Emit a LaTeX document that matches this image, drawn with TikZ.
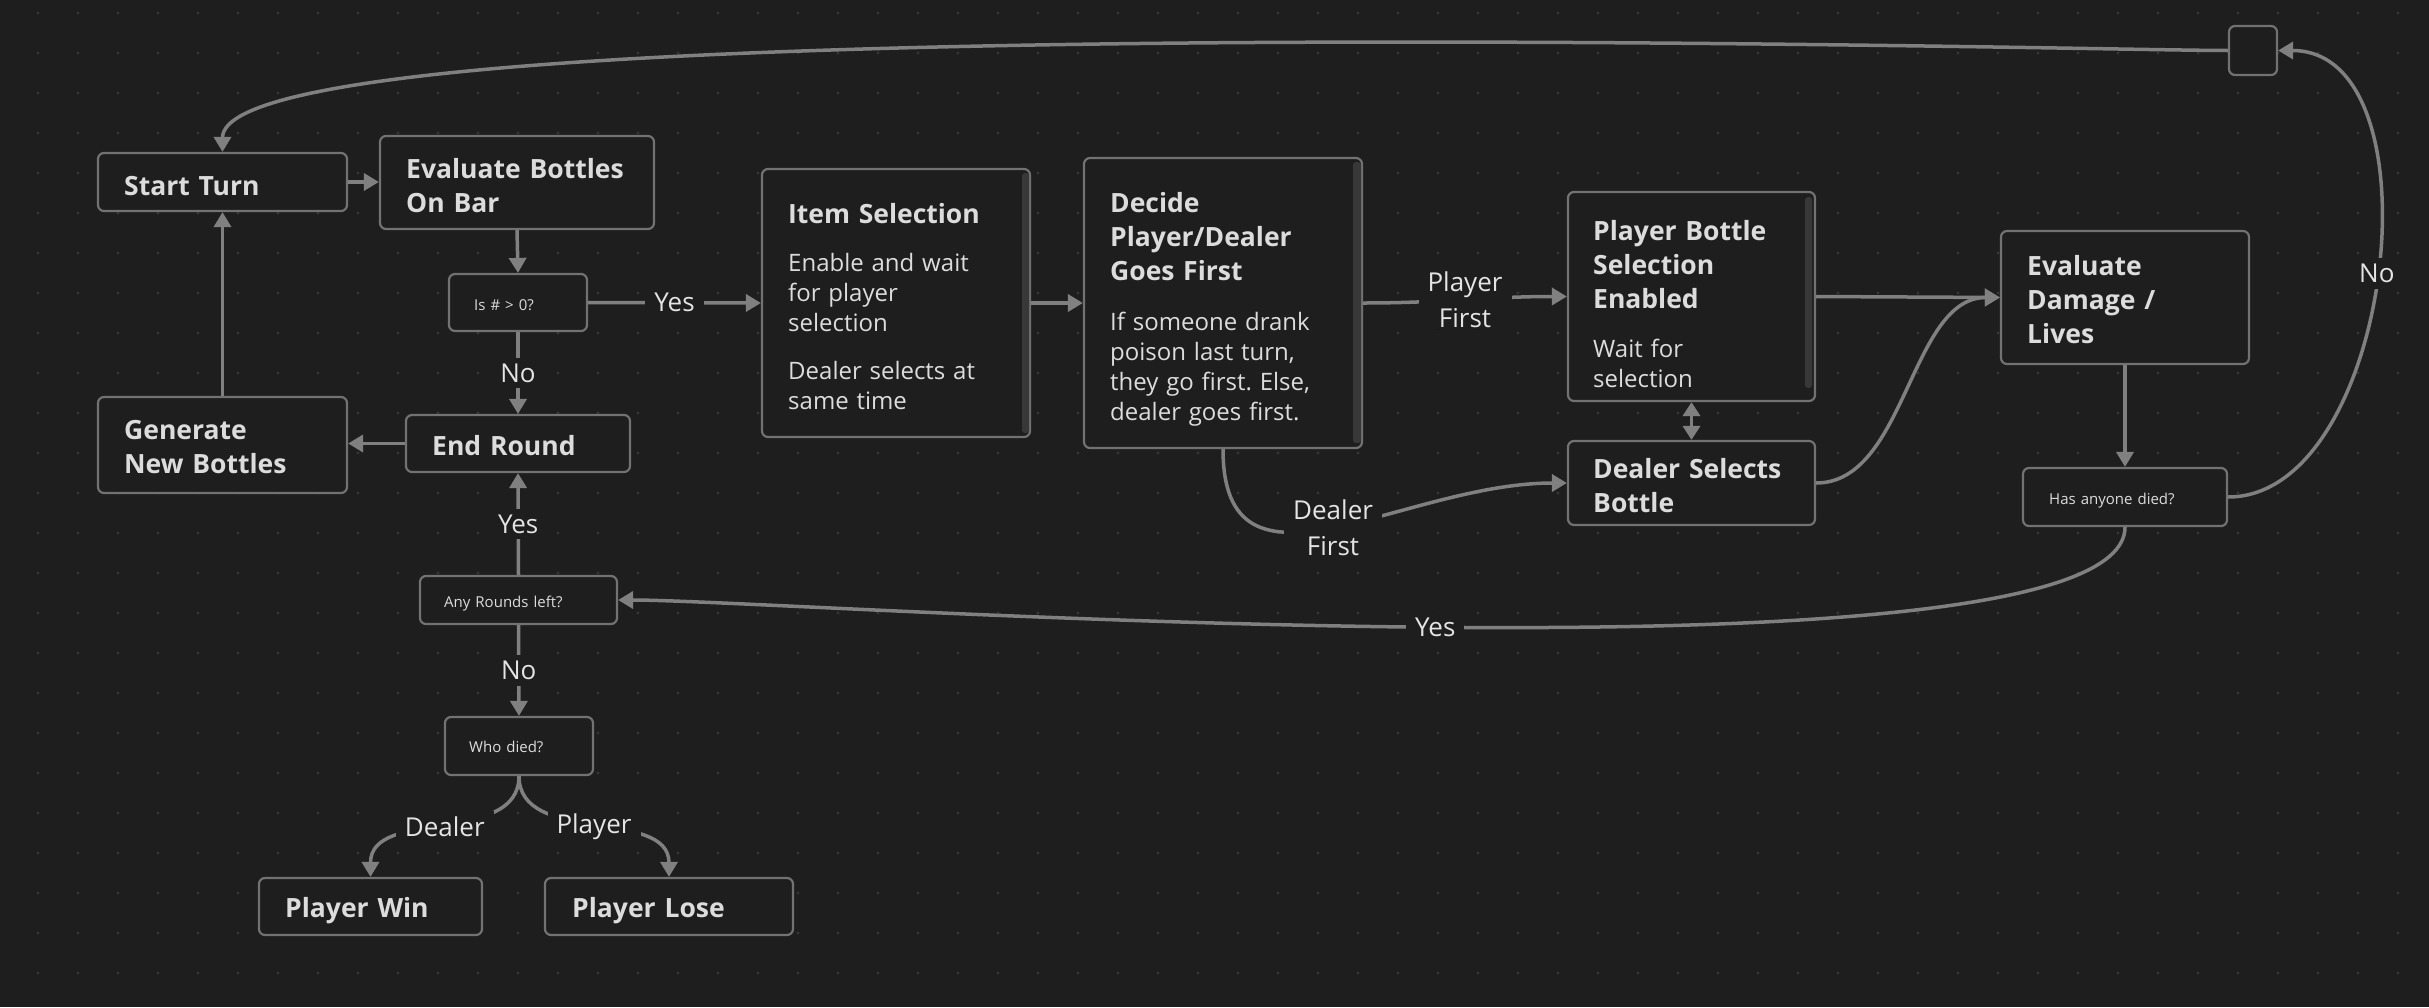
\documentclass[tikz,border=0pt]{standalone}
\usepackage{fontspec}
\setmainfont{Open Sans}[WordSpace=1.25]
\usetikzlibrary{arrows.meta}
\definecolor{bg}{HTML}{1E1E1E}
\definecolor{dotc}{HTML}{363636}
\definecolor{bordc}{HTML}{727272}
\definecolor{edgec}{HTML}{808080}
\definecolor{txtc}{HTML}{DCDCDC}
\definecolor{lblc}{HTML}{E4E4E4}
\definecolor{scrollc}{HTML}{383838}
\newcommand{\ttlf}{\fontsize{26.5pt}{34pt}\selectfont\bfseries\frenchspacing\spaceskip=0pt\xspaceskip=0pt\relax}
\newcommand{\bodyf}{\fontsize{24pt}{30pt}\selectfont\frenchspacing\spaceskip=0pt\xspaceskip=0pt\relax}
\newcommand{\smallf}{\fontsize{15pt}{18pt}\selectfont}
\newcommand{\lblf}{\fontsize{26pt}{36pt}\selectfont}
\tikzset{
  box/.style={draw=bordc, line width=2.2pt, fill=bg, rounded corners=6pt, inner sep=0pt},
  txt/.style={anchor=base west, inner sep=0pt, text=txtc, align=left},
  lbl/.style={fill=bg, text=lblc, inner xsep=9pt, inner ysep=6pt, font=\lblf, align=center},
  edge/.style={draw=edgec, line width=3.5pt, -{Triangle[length=15pt,width=17pt]}},
  dbl/.style={draw=edgec, line width=3.5pt, {Triangle[length=14pt,width=17pt]}-{Triangle[length=14pt,width=17pt]}},
}
\begin{document}
\frenchspacing
\begin{tikzpicture}[x=1pt,y=-1pt]
\path[use as bounding box, fill=bg] (0,0) rectangle (2429,1007);
% dot grid
\foreach \i in {0,...,59}{\foreach \j in {0,...,24}{\fill[dotc] ({38+40*\i},{13+40*\j}) circle (1.6pt);}}

% boxes
\node[box, minimum width=249pt, minimum height=58pt] (start) at (222.5,182) {};
\node[box, minimum width=274pt, minimum height=93pt] (evalb) at (517,182.5) {};
\node[box, minimum width=138pt, minimum height=57pt] (isq) at (518,302.5) {};
\node[box, minimum width=224pt, minimum height=57pt] (endr) at (518,443.5) {};
\node[box, minimum width=249pt, minimum height=96pt] (gen) at (222.5,445) {};
\node[box, minimum width=197pt, minimum height=48pt] (anyr) at (518.5,600) {};
\node[box, minimum width=148pt, minimum height=58pt] (who) at (519,746) {};
\node[box, minimum width=223pt, minimum height=57pt] (win) at (370.5,906.5) {};
\node[box, minimum width=248pt, minimum height=57pt] (lose) at (669,906.5) {};
\node[box, minimum width=268pt, minimum height=268pt] (item) at (896,303) {};
\node[box, minimum width=278pt, minimum height=290pt] (decide) at (1223,303) {};
\node[box, minimum width=247pt, minimum height=209pt] (pbse) at (1691.5,296.5) {};
\node[box, minimum width=247pt, minimum height=84pt] (dsb) at (1691.5,483) {};
\node[box, minimum width=248pt, minimum height=133pt] (evald) at (2125,297.5) {};
\node[box, minimum width=204pt, minimum height=58pt] (died) at (2125,497) {};
\node[box, minimum width=48pt, minimum height=49pt] (hub) at (2253,50.5) {};

% scrollbars
\fill[scrollc, rounded corners=3pt] (1022,173) rectangle (1029,433);
\fill[scrollc, rounded corners=3pt] (1353,162) rectangle (1361,443);
\fill[scrollc, rounded corners=3pt] (1805,197) rectangle (1812,388);

% texts
\node[txt, text width=220pt, font=\ttlf] at (124,195) {Start Turn};
\node[txt, text width=240pt, font=\ttlf] at (406,178) {Evaluate Bottles\\On Bar};
\node[txt, text width=110pt, font=\smallf] at (474,310) {Is \# > 0?};
\node[txt, text width=190pt, font=\ttlf] at (432,455) {End Round};
\node[txt, text width=220pt, font=\ttlf] at (124,439) {Generate\\New Bottles};
\node[txt, text width=170pt, font=\smallf] at (444,607) {Any Rounds left?};
\node[txt, text width=120pt, font=\smallf] at (469,752) {Who died?};
\node[txt, text width=190pt, font=\ttlf] at (285,917) {Player Win};
\node[txt, text width=210pt, font=\ttlf] at (572,917) {Player Lose};
\node[txt, text width=230pt] at (788,223) {{\ttlf Item Selection\par}\vspace{18pt}{\bodyf Enable and wait\\for player\\selection\par}\vspace{18pt}{\bodyf Dealer selects at\\same time\par}};
\node[txt, text width=240pt] at (1110,212) {{\ttlf Decide\\Player/Dealer\\Goes First\par}\vspace{20pt}{\bodyf If someone drank\\poison last turn,\\they go first. Else,\\dealer goes first.\par}};
\node[txt, text width=210pt] at (1593,240) {{\ttlf Player Bottle\\Selection\\Enabled\par}\vspace{19pt}{\bodyf Wait for\\selection\par}};
\node[txt, text width=210pt, font=\ttlf] at (1593,478) {Dealer Selects\\Bottle};
\node[txt, text width=210pt, font=\ttlf] at (2027,275) {Evaluate\\Damage /\\Lives};
\node[txt, text width=170pt, font=\smallf] at (2049,504) {Has anyone died?};

% connectors
\draw[edge] (start.east) -- (evalb.west |- start.east);
\draw[edge] (evalb.south) -- (isq.north);
\draw[edge] (isq.east) -- node[lbl]{Yes} (item.west);
\draw[edge] (isq.south) -- node[lbl]{No} (endr.north);
\draw[edge] (endr.west) -- (endr.west -| gen.east);
\draw[edge] (gen.north) -- (start.south);
\draw[edge] (anyr.north) -- node[lbl]{Yes} (endr.south);
\draw[edge] (anyr.south) -- node[lbl]{No} (who.north);
\draw[edge] (who.south) .. controls +(0,70) and +(0,-70) .. node[lbl]{Dealer} (win.north);
\draw[edge] (who.south) .. controls +(0,70) and +(0,-70) .. node[lbl]{Player} (lose.north);
\draw[edge] (item.east) -- (decide.west);
\draw[edge] (decide.east) .. controls +(80,0) and +(-80,0) .. node[lbl]{Player\\First} (pbse.west);
\draw[edge] (decide.south) .. controls +(0,165) and +(-165,0) .. node[lbl]{Dealer\\First} (dsb.west);
\draw[dbl] (pbse.south) -- (dsb.north);
\draw[edge] (pbse.east) -- (evald.west);
\draw[edge] (dsb.east) .. controls +(90,0) and +(-90,0) .. (evald.west);
\draw[edge] (evald.south) -- (died.north);
\draw[edge] (died.east) .. controls +(165,0) and +(165,0) .. node[lbl]{No} (hub.east);
\draw[edge] (died.south) .. controls +(0,170) and +(170,0) .. node[lbl]{Yes} (anyr.east);
\draw[edge] (hub.west) .. controls +(-150,0) and +(0,-150) .. (start.north);
\end{tikzpicture}
\end{document}
